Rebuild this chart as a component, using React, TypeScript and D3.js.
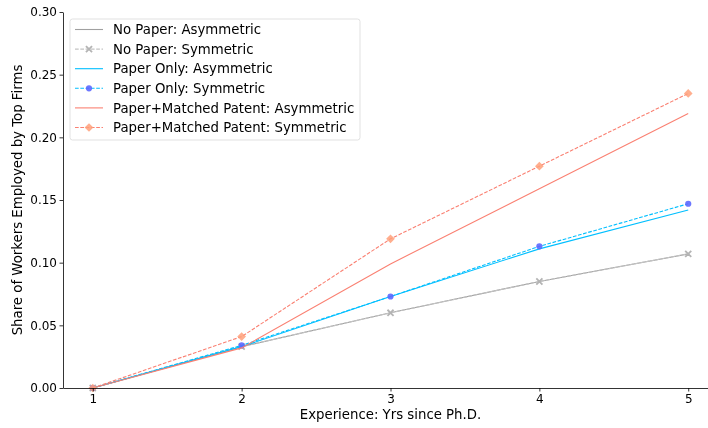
import React, { useEffect, useRef } from 'react';
import * as d3 from 'd3';

// Experience (years since Ph.D.)
const years = [1, 2, 3, 4, 5];

// Share of workers employed by top firms, per series
const noPaperAsym = [0, 0.033, 0.060, 0.085, 0.107];
const noPaperSym = [0, 0.033, 0.060, 0.085, 0.107];
const paperOnlyAsym = [0, 0.033, 0.073, 0.111, 0.142];
const paperOnlySym = [0, 0.034, 0.073, 0.113, 0.147];
const patentAsym = [0, 0.032, 0.099, 0.159, 0.219];
const patentSym = [0, 0.041, 0.119, 0.177, 0.235];

const yTicks = [0, 0.05, 0.1, 0.15, 0.2, 0.25, 0.3];

interface Series {
  name: string;
  values: number[];
  color: string;
  dashed: boolean;
  marker?: 'x' | 'circle' | 'diamond';
  markerColor?: string;
}

const series: Series[] = [
  { name: 'No Paper: Asymmetric', values: noPaperAsym, color: '#a0a0a0', dashed: false },
  { name: 'No Paper: Symmetric', values: noPaperSym, color: '#c4c4c4', dashed: true, marker: 'x', markerColor: '#b4b4b4' },
  { name: 'Paper Only: Asymmetric', values: paperOnlyAsym, color: '#00bfff', dashed: false },
  { name: 'Paper Only: Symmetric', values: paperOnlySym, color: '#00bfff', dashed: true, marker: 'circle', markerColor: '#5c68ff' },
  { name: 'Paper+Matched Patent: Asymmetric', values: patentAsym, color: '#fa8072', dashed: false },
  { name: 'Paper+Matched Patent: Symmetric', values: patentSym, color: '#fa8072', dashed: true, marker: 'diamond', markerColor: '#ffa07a' },
];

function drawMarker(g: d3.Selection<SVGGElement, unknown, null, undefined>, kind: string, x: number, y: number, color: string) {
  if (kind === 'circle') {
    g.append('circle').attr('cx', x).attr('cy', y).attr('r', 3.1)
      .attr('fill', color).attr('opacity', 0.9);
  } else if (kind === 'diamond') {
    // matplotlib "D": a square turned 45 degrees
    g.append('path')
      .attr('d', d3.symbol(d3.symbolSquare, 38)())
      .attr('transform', `translate(${x},${y}) rotate(45)`)
      .attr('fill', color).attr('opacity', 0.85);
  } else {
    g.append('path')
      .attr('d', d3.symbol(d3.symbolX, 26)())
      .attr('transform', `translate(${x},${y})`)
      .attr('fill', 'none').attr('stroke', color).attr('stroke-width', 1.8);
  }
}

export default function App() {
  const ref = useRef<SVGSVGElement>(null);

  useEffect(() => {
    if (!ref.current) return;
    const svg = d3.select(ref.current);
    svg.selectAll('*').remove();

    const left = 63, right = 718, top = 12, bottom = 388;
    const x = d3.scaleLinear().domain([0.8, 5.2]).range([left, right]);
    const y = d3.scaleLinear().domain([0, 0.3]).range([bottom, top]);
    const font = 'DejaVu Sans, sans-serif';

    const g = svg.append('g');

    // series lines
    series.forEach(s => {
      const line = d3.line<number>()
        .x((_, i) => x(years[i]))
        .y(d => y(d));
      g.append('path')
        .datum(s.values)
        .attr('fill', 'none')
        .attr('stroke', s.color)
        .attr('stroke-width', 1.1)
        .attr('stroke-dasharray', s.dashed ? '3.7,1.6' : null)
        .attr('d', line);
      if (s.marker) {
        s.values.forEach((v, i) => drawMarker(g, s.marker!, x(years[i]), y(v), s.markerColor!));
      }
    });

    // axes
    const xAxis = svg.append('g')
      .attr('transform', `translate(0,${bottom})`)
      .call(d3.axisBottom(x).tickValues(years).tickFormat(d3.format('d')).tickSize(3.5).tickSizeOuter(0));
    const yAxis = svg.append('g')
      .attr('transform', `translate(${left},0)`)
      .call(d3.axisLeft(y).tickValues(yTicks).tickFormat(d3.format('.2f')).tickSize(3.5).tickSizeOuter(0));
    [xAxis, yAxis].forEach(a => {
      a.selectAll('text').attr('font-family', font).attr('font-size', 12).attr('fill', '#000');
      a.selectAll('line').attr('stroke', '#000').attr('stroke-width', 0.8);
      a.select('.domain').attr('stroke', '#000').attr('stroke-width', 0.8);
    });
    xAxis.selectAll('text').attr('dy', '0.71em').attr('y', 6);
    yAxis.selectAll('text').attr('x', -6);

    svg.append('text')
      .attr('x', (left + right) / 2)
      .attr('y', 419)
      .attr('text-anchor', 'middle')
      .attr('font-family', font)
      .attr('font-size', 13.3)
      .text('Experience: Yrs since Ph.D.');

    svg.append('text')
      .attr('transform', `translate(21.5,${(top + bottom) / 2}) rotate(-90)`)
      .attr('text-anchor', 'middle')
      .attr('font-family', font)
      .attr('font-size', 13.3)
      .text('Share of Workers Employed by Top Firms');

    // legend
    const legend = svg.append('g').attr('transform', 'translate(70,19)');
    legend.append('rect')
      .attr('x', 0).attr('y', 0).attr('width', 290).attr('height', 121)
      .attr('rx', 2.5)
      .attr('fill', 'white').attr('fill-opacity', 0.8)
      .attr('stroke', '#d9d9d9').attr('stroke-width', 0.8);
    series.forEach((s, i) => {
      const row = legend.append('g').attr('transform', `translate(0,${10.5 + i * 19.6})`);
      row.append('line')
        .attr('x1', 5).attr('x2', 33).attr('y1', 0).attr('y2', 0)
        .attr('stroke', s.color).attr('stroke-width', 1.1)
        .attr('stroke-dasharray', s.dashed ? '3.7,1.6' : null);
      if (s.marker) drawMarker(row, s.marker, 19, 0, s.markerColor!);
      row.append('text')
        .attr('x', 43).attr('y', 0).attr('dy', '0.36em')
        .attr('font-family', font).attr('font-size', 13.3)
        .text(s.name);
    });
  }, []);

  return (
    <div style={{ position: 'fixed', left: 0, top: 0 }}>
      <svg ref={ref} width={708} height={428} style={{ display: 'block', overflow: 'hidden' }} />
    </div>
  );
}
